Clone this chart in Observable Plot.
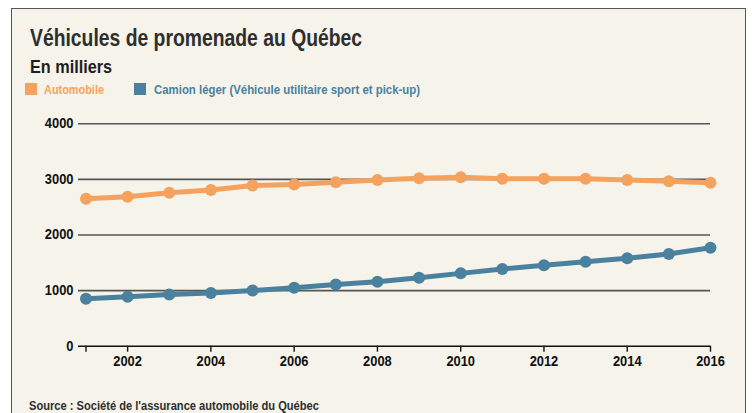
<!DOCTYPE html>
<html>
<head>
<meta charset="utf-8">
<script src="https://cdn.jsdelivr.net/npm/d3@7"></script>
<script src="https://cdn.jsdelivr.net/npm/@observablehq/plot@0.6"></script>
<style>
  html, body { margin: 0; padding: 0; background: #ffffff; }
  #page { position: relative; width: 752px; height: 413px; overflow: hidden; background: #ffffff;
          font-family: "Liberation Sans", Arial, sans-serif; font-weight: bold; }
  #box { position: absolute; left: 11px; top: 8px; width: 733px; height: 430px;
         border: 1.5px solid #555; background: #f5f3ea; }
  .t { position: absolute; white-space: nowrap; line-height: 1; display: inline-block; transform-origin: 0 0; }
  .sw { position: absolute; width: 12px; height: 12px; }
  #chart { position: absolute; left: 0; top: 100px; }
</style>
</head>
<body>
<div id="page">
  <div id="box"></div>
  <span class="t" id="title" data-w="332" style="left:30px; top:26.4px; font-size:24px; color:#2e2e2e;">Véhicules de promenade au Québec</span>
  <span class="t" id="sub" data-w="82" style="left:30px; top:57.8px; font-size:18px; color:#1e1e1e;">En milliers</span>
  <div class="sw" style="left:25px; top:83px; background:#f4a25d;"></div>
  <span class="t" id="l1" data-w="60" style="left:44px; top:83.8px; font-size:12px; color:#f4a25d;">Automobile</span>
  <div class="sw" style="left:134px; top:83px; background:#4a819e;"></div>
  <span class="t" id="l2" data-w="266" style="left:154px; top:83.8px; font-size:12px; color:#4a819e;">Camion léger (Véhicule utilitaire sport et pick-up)</span>
  <div id="chart"></div>
  <span class="t" id="src" data-w="290" style="left:29px; top:399.8px; font-size:12px; color:#2e2e2e;">Source : Société de l'assurance automobile du Québec</span>
</div>
<script>
// Data (thousands of vehicles)
const years = [2001, 2002, 2003, 2004, 2005, 2006, 2007, 2008, 2009, 2010, 2011, 2012, 2013, 2014, 2015, 2016];
const automobile = [2650, 2690, 2760, 2810, 2890, 2910, 2950, 2990, 3020, 3040, 3010, 3010, 3010, 2990, 2965, 2940];
const camionLeger = [855, 890, 930, 955, 1000, 1050, 1110, 1160, 1230, 1310, 1390, 1455, 1520, 1580, 1660, 1770];
const seriesNames = ["Automobile", "Camion léger (Véhicule utilitaire sport et pick-up)"];
const seriesColors = ["#f4a25d", "#4a819e"];
const xTicks = [2001, 2002, 2004, 2006, 2008, 2010, 2012, 2014, 2016];
const yTicks = [0, 1000, 2000, 3000, 4000];
const gridValues = [1000, 2000, 3000, 4000];

const rows = [];
years.forEach((y, i) => {
  rows.push({year: y, value: automobile[i], series: seriesNames[0]});
  rows.push({year: y, value: camionLeger[i], series: seriesNames[1]});
});

const plot = Plot.plot({
  width: 752,
  height: 313,
  marginTop: 23.3,
  marginBottom: 67.3,
  marginLeft: 78,
  marginRight: 42,
  style: {background: "transparent", overflow: "visible", fontFamily: "'Liberation Sans', Arial, sans-serif", fontWeight: "bold", fontSize: "14px", color: "#111"},
  x: {domain: [2000.82, 2016], axis: null, label: null},
  y: {domain: [0, 4000], axis: null, label: null},
  color: {domain: seriesNames, range: seriesColors},
  marks: [
    Plot.ruleY(gridValues, {stroke: "#555", strokeWidth: 1.6}),
    Plot.ruleY([0], {stroke: "#111", strokeWidth: 1.6}),
    Plot.axisX({ticks: xTicks, tickFormat: d => d === 2001 ? "" : String(d), tickSize: 6, tickPadding: 4, label: null, stroke: "#111", strokeWidth: 1.4, fontSize: 14, fontWeight: "bold", fill: "#111"}),
    Plot.axisY({ticks: yTicks, tickFormat: d => String(d), tickSize: 0, tickPadding: 5, label: null, fontSize: 14, fontWeight: "bold", fill: "#111"}),
    Plot.line(rows, {x: "year", y: "value", z: "series", stroke: "series", strokeWidth: 5, curve: "linear"}),
    Plot.dot(rows, {x: "year", y: "value", fill: "series", r: 6, stroke: "none"})
  ]
});
document.getElementById("chart").appendChild(plot);

// condense axis text slightly, like the narrow newspaper font
plot.querySelectorAll('g[aria-label$="tick label"] text').forEach(t => {
  const tr = t.getAttribute("transform") || "";
  t.setAttribute("transform", tr + " scale(0.92,1)");
});

// fit HTML texts to measured widths (condensed font look)
document.querySelectorAll(".t[data-w]").forEach(el => {
  const w = +el.dataset.w;
  const s = w / el.offsetWidth;
  el.style.transform = `scaleX(${s})`;
});
</script>
</body>
</html>
